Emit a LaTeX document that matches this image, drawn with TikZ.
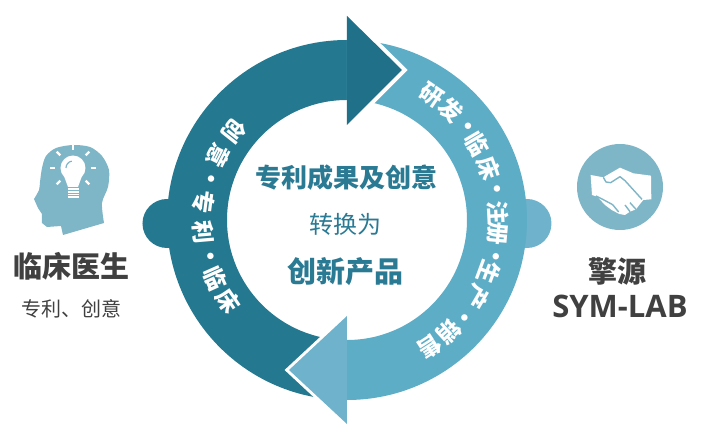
\documentclass[tikz,border=0pt]{standalone}
\usepackage{fontspec}
\newfontfamily\cjk{Noto Sans CJK SC}
\newfontfamily\latn{Open Sans}
\definecolor{ringdark}{HTML}{24788F}
\definecolor{arrowdark}{HTML}{1F7088}
\definecolor{ringlight}{HTML}{5DADC7}
\definecolor{arrowlight}{HTML}{6EB2CC}
\definecolor{iconblue}{HTML}{7FB6C7}
\definecolor{titleblue}{HTML}{2B7A94}
\definecolor{darkgrey}{HTML}{404040}
\begin{document}
\begin{tikzpicture}[
    x=1pt, y=1pt,
    ringchar/.style = {white, inner sep=0pt, font=\cjk\bfseries\fontsize{23}{23}\selectfont},
    midtitle/.style = {titleblue, inner sep=0pt, font=\cjk\bfseries\fontsize{26}{26}\selectfont},
    midplain/.style = {titleblue, inner sep=0pt, font=\cjk\fontsize{24}{24}\selectfont},
    person/.style = {darkgrey, inner sep=0pt, font=\cjk\bfseries\fontsize{29}{29}\selectfont},
    arrowedge/.style = {white, line width=8pt, miter limit=4},
]
    \useasboundingbox (-347,220) rectangle (369,-216);
    % Bumps behind the ring
    \fill[ringdark] (-180,-3.5) circle (24.5);
    \fill[arrowlight] (180,-3.5) circle (24.5);
    % Ring halves
    \fill[ringdark] (90:180) arc[start angle=90, end angle=270, radius=180]
        -- (270:120) arc[start angle=270, end angle=90, radius=120] -- cycle;
    \fill[ringlight] (90:180) arc[start angle=90, end angle=-90, radius=180]
        -- (-90:120) arc[start angle=-90, end angle=90, radius=120] -- cycle;
    % Arrow heads
    \draw[arrowedge] (0,204) -- (55,150) -- (0,95);
    \fill[arrowdark] (0,204) -- (55,150) -- (0,95) -- cycle;
    \draw[arrowedge, line width=6pt] (0,-96) -- (-58,-150) -- (0,-204);
    \fill[arrowlight] (0,-96) -- (-58,-150) -- (0,-204) -- cycle;
    % Left band, one character at a time
    \foreach \ang/\ch [count=\k] in {141.6/创, 153.4/意, 163/•, 172.7/专, 185/利, 194.8/•, 204/临, 214.4/床}
        \node[ringchar, rotate=\ang+90] (left\k) at (\ang:144) {\ch};
    % Right band
    \foreach \ang/\ch [count=\k] in {55.8/研, 46.7/发, 37.7/•, 30.4/临, 20/床, 11.8/•, 3/注, -5/册, -13.7/•, -20.3/生, -30.4/产, -39.7/•, -47.6/销, -57/售}
        \node[ringchar, rotate=\ang-90] (right\k) at (\ang:151) {\ch};
    % Middle of the ring
    \node[midtitle] (patents) at (0,42) {专利成果及创意};
    \node[midplain] (convert) at (-1,-4) {转换为};
    \node[midtitle, font=\cjk\bfseries\fontsize{29}{29}\selectfont] (product) at (-1,-52) {创新产品};
    % Left side: doctor
    \node[person] (doctor) at (-275,-46) {临床医生};
    \node[darkgrey, inner sep=0pt, font=\cjk\fontsize{20}{20}\selectfont] (idea) at (-275,-89) {专利、创意};
    % Right side: company
    \node[person] (company) at (271,-52) {擎源};
    \node[person, font=\latn\bfseries\fontsize{31}{31}\selectfont] (symlab) at (273,-86) {SYM-LAB};
    % Head icon, in pixels of the crop
    \begin{scope}[shift={(-347,80)}]
        \fill[iconblue] plot[smooth] coordinates {(34,-59) (39,-50) (40,-42) (42,-28) (46,-16) (56,-8) (73,-5) (90,-7) (102,-16) (109,-30) (108,-47) (102,-63) (104,-83)}
            -- (63,-95) -- (61,-86) -- (47,-87) -- (42,-83) -- (42,-74) -- (38,-68) -- cycle;
        \fill[white] (73,-28) circle (12.5);
        \fill[white] (64,-36) -- (82,-36) -- (78,-47) -- (68,-47) -- cycle;
        \draw[iconblue, line width=1.2pt] (66,-28) arc[start angle=180, end angle=100, radius=7];
        \foreach \yy in {-49,-52,-54.5,-57}
            \draw[white, line width=1.6pt] (68,\yy) -- (79,\yy);
        \foreach \ang in {0,45,90,135,180,225,-45}
            \draw[white, line width=2.2pt] ([shift={(73,-28)}]\ang:18) -- ([shift={(73,-28)}]\ang:23);
    \end{scope}
    % Handshake icon
    \fill[iconblue] (273,33) circle (43);
    \begin{scope}[shift={(223,80)}, x=0.3333pt, y=-0.3333pt]
        \fill[white] (62,105) -- (100,112) -- (150,83) -- (190,100) -- (243,107) -- (244,178) -- (220,180)
            -- (210,192) -- (198,208) -- (180,215) -- (165,225) -- (148,222) -- (125,210) -- (105,195)
            -- (82,170) -- (66,165) -- cycle;
        \draw[iconblue, line width=1.4pt, line join=round] (100,112) -- (108,126) -- (122,128) -- (150,110)
            -- (165,122) -- (216,178);
        \draw[iconblue, line width=1.4pt, line join=round] (78,168) -- (98,178) -- (128,194) -- (146,216);
        \draw[iconblue, line width=1.4pt] (180,215) -- (165,195);
        \draw[iconblue, line width=1.4pt] (198,208) -- (180,188);
    \end{scope}
\end{tikzpicture}
\end{document}
